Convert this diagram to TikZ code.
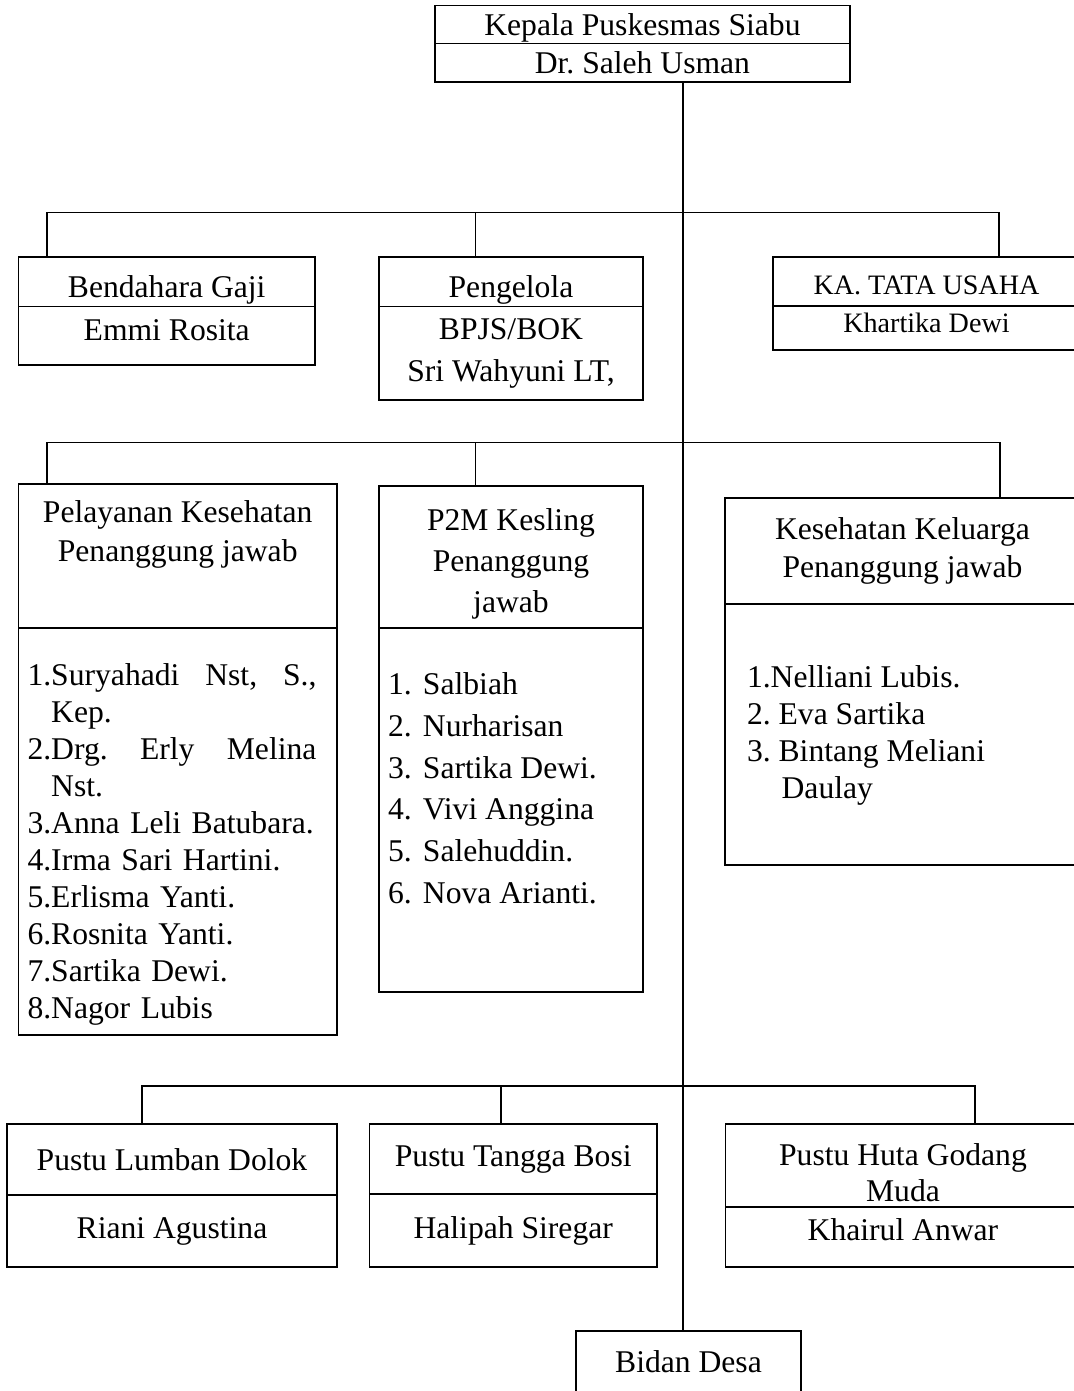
\documentclass[tikz,border=0pt]{standalone}
\usepackage{fontspec}
\setmainfont{Liberation Serif}
\usepackage{tikz}
\usetikzlibrary{positioning}
\frenchspacing
\newcommand{\padtop}[1]{\rule{0pt}{#1}}
\newcommand{\padbot}[1]{\rule[-#1]{0pt}{#1}}

\begin{document}
\begin{tikzpicture}[
  x=0.02cm, y=-0.02cm,
  part/.style={draw, line width=0.9pt, inner sep=0pt, outer sep=0pt, align=center,
               font=\fontsize{18}{21}\selectfont},
  small/.style={font=\fontsize{16}{19}\selectfont},
  list/.style={inner sep=0pt, outer sep=0pt, align=left, anchor=north west,
               font=\fontsize{18}{21}\selectfont},
  link/.style={line width=0.8pt},
]
\path[use as bounding box, fill=white] (0,0) rectangle (1073,1391);

% Kepala
\node[part, anchor=north west, minimum width=8.3cm, minimum height=0.76cm] (kepalaTop) at (435,5.7) {\padtop{15.7pt}Kepala Puskesmas Siabu};
\node[part, below=0pt of kepalaTop, minimum width=8.3cm, minimum height=0.77cm] (kepalaBot) {Dr. Saleh Usman};

% Baris pertama
\node[part, anchor=north west, minimum width=5.93cm, minimum height=0.99cm] (bendTop) at (18.5,257) {\padtop{21.4pt}Bendahara Gaji};
\node[part, below=0pt of bendTop, minimum width=5.93cm, minimum height=1.17cm] (bendBot) {Emmi Rosita\padbot{6.8pt}};

\node[part, anchor=north west, minimum width=5.28cm, minimum height=0.99cm] (pengTop) at (379,257) {\padtop{21.4pt}Pengelola};
\node[part, below=0pt of pengTop, minimum width=5.28cm, minimum height=1.87cm,
      font=\fontsize{18}{23.7}\selectfont] (pengBot) {BPJS/BOK\\Sri Wahyuni LT,};

\node[part, small, anchor=north west, minimum width=6.14cm, minimum height=0.98cm] (tuTop) at (773,257) {\padtop{15.2pt}KA. TATA USAHA};
\node[part, small, below=0pt of tuTop, minimum width=6.14cm, minimum height=0.88cm] (tuBot) {Khartika Dewi\padbot{5.7pt}};

% Baris kedua
\node[part, anchor=north west, minimum width=6.37cm, minimum height=2.88cm,
      font=\fontsize{18}{22}\selectfont] (pelTop) at (18.5,484) {Pelayanan Kesehatan\\Penanggung jawab\\\strut};
\node[part, below=0pt of pelTop, minimum width=6.37cm, minimum height=8.14cm] (pelBot) {};

\node[part, anchor=north west, minimum width=5.28cm, minimum height=2.84cm,
      font=\fontsize{18}{23.3}\selectfont] (p2mTop) at (379,486) {\padtop{20.3pt}P2M Kesling\\Penanggung\\jawab};
\node[part, below=0pt of p2mTop, minimum width=5.28cm, minimum height=7.28cm] (p2mBot) {};

\node[part, anchor=north west, minimum width=7.1cm, minimum height=2.12cm,
      font=\fontsize{18}{22}\selectfont] (kkTop) at (725,498) {Kesehatan Keluarga\\Penanggung jawab};
\node[part, below=0pt of kkTop, minimum width=7.1cm, minimum height=5.22cm] (kkBot) {};

% Daftar nama
\node[list, text width=5.8cm] (pelList) at (27.5,664) {%
  \makebox[5.78cm][s]{1.Suryahadi\hfill Nst,\hfill S.,}\\
  \phantom{1.}Kep.\\
  \makebox[5.78cm][s]{2.Drg.\hfill Erly\hfill Melina}\\
  \phantom{2.}Nst.\\
  3.Anna Leli Batubara.\\
  4.Irma Sari Hartini.\\
  5.Erlisma Yanti.\\
  6.Rosnita Yanti.\\
  7.Sartika Dewi.\\
  8.Nagor Lubis};

\node[list, font=\fontsize{18}{23.7}\selectfont] (p2mList) at (388,673) {%
  \makebox[0.7cm][l]{1.}Salbiah\\
  \makebox[0.7cm][l]{2.}Nurharisan\\
  \makebox[0.7cm][l]{3.}Sartika Dewi.\\
  \makebox[0.7cm][l]{4.}Vivi Anggina\\
  \makebox[0.7cm][l]{5.}Salehuddin.\\
  \makebox[0.7cm][l]{6.}Nova Arianti.};

\node[list, font=\fontsize{18}{20.9}\selectfont] (kkList) at (747,666) {%
  1.Nelliani Lubis.\\
  2. Eva Sartika\\
  3. Bintang Meliani\\
  \hspace*{19.7pt}Daulay};

% Pustu
\node[part, anchor=north west, minimum width=6.6cm, minimum height=1.42cm] (lumbanTop) at (7,1124) {Pustu Lumban Dolok};
\node[part, below=0pt of lumbanTop, minimum width=6.6cm, minimum height=1.44cm] (lumbanBot) {Riani Agustina};

\node[part, anchor=north west, minimum width=5.75cm, minimum height=1.4cm] (tanggaTop) at (369.5,1124) {Pustu Tangga Bosi};
\node[part, below=0pt of tanggaTop, minimum width=5.75cm, minimum height=1.46cm] (tanggaBot) {Halipah Siregar};

\node[part, anchor=north west, minimum width=7.1cm, minimum height=1.66cm,
      font=\fontsize{18}{20.5}\selectfont] (hutaTop) at (725.5,1124) {\padtop{20.3pt}Pustu Huta Godang\\Muda};
\node[part, below=0pt of hutaTop, minimum width=7.1cm, minimum height=1.2cm] (hutaBot) {Khairul Anwar\padbot{8pt}};

% Bidan Desa
\node[part, anchor=north west, minimum width=4.5cm, minimum height=1.24cm] (bidan) at (576,1331) {Bidan Desa};

% Garis
\coordinate (spine) at (683,0);
\draw[link] (kepalaBot.south -| spine) -- (bidan.north -| spine);

\coordinate (busOneW) at (47,212.5);
\coordinate (busOneM) at (475.5,212.5);
\coordinate (busOneE) at (999,212.5);
\draw[link] (bendTop.north -| busOneW) -- (busOneW) -- (busOneE) -- (tuTop.north -| busOneE);
\draw[link] (busOneM) -- (pengTop.north -| busOneM);

\coordinate (busTwoW) at (47,442.5);
\coordinate (busTwoM) at (475.5,442.5);
\coordinate (busTwoE) at (1000,442.5);
\draw[link] (pelTop.north -| busTwoW) -- (busTwoW) -- (busTwoE) -- (kkTop.north -| busTwoE);
\draw[link] (busTwoM) -- (p2mTop.north -| busTwoM);

\coordinate (busThreeW) at (142,1086);
\coordinate (busThreeM) at (501,1086);
\coordinate (busThreeE) at (975,1086);
\draw[link] (lumbanTop.north -| busThreeW) -- (busThreeW) -- (busThreeE) -- (hutaTop.north -| busThreeE);
\draw[link] (busThreeM) -- (tanggaTop.north -| busThreeM);

\end{tikzpicture}
\end{document}
